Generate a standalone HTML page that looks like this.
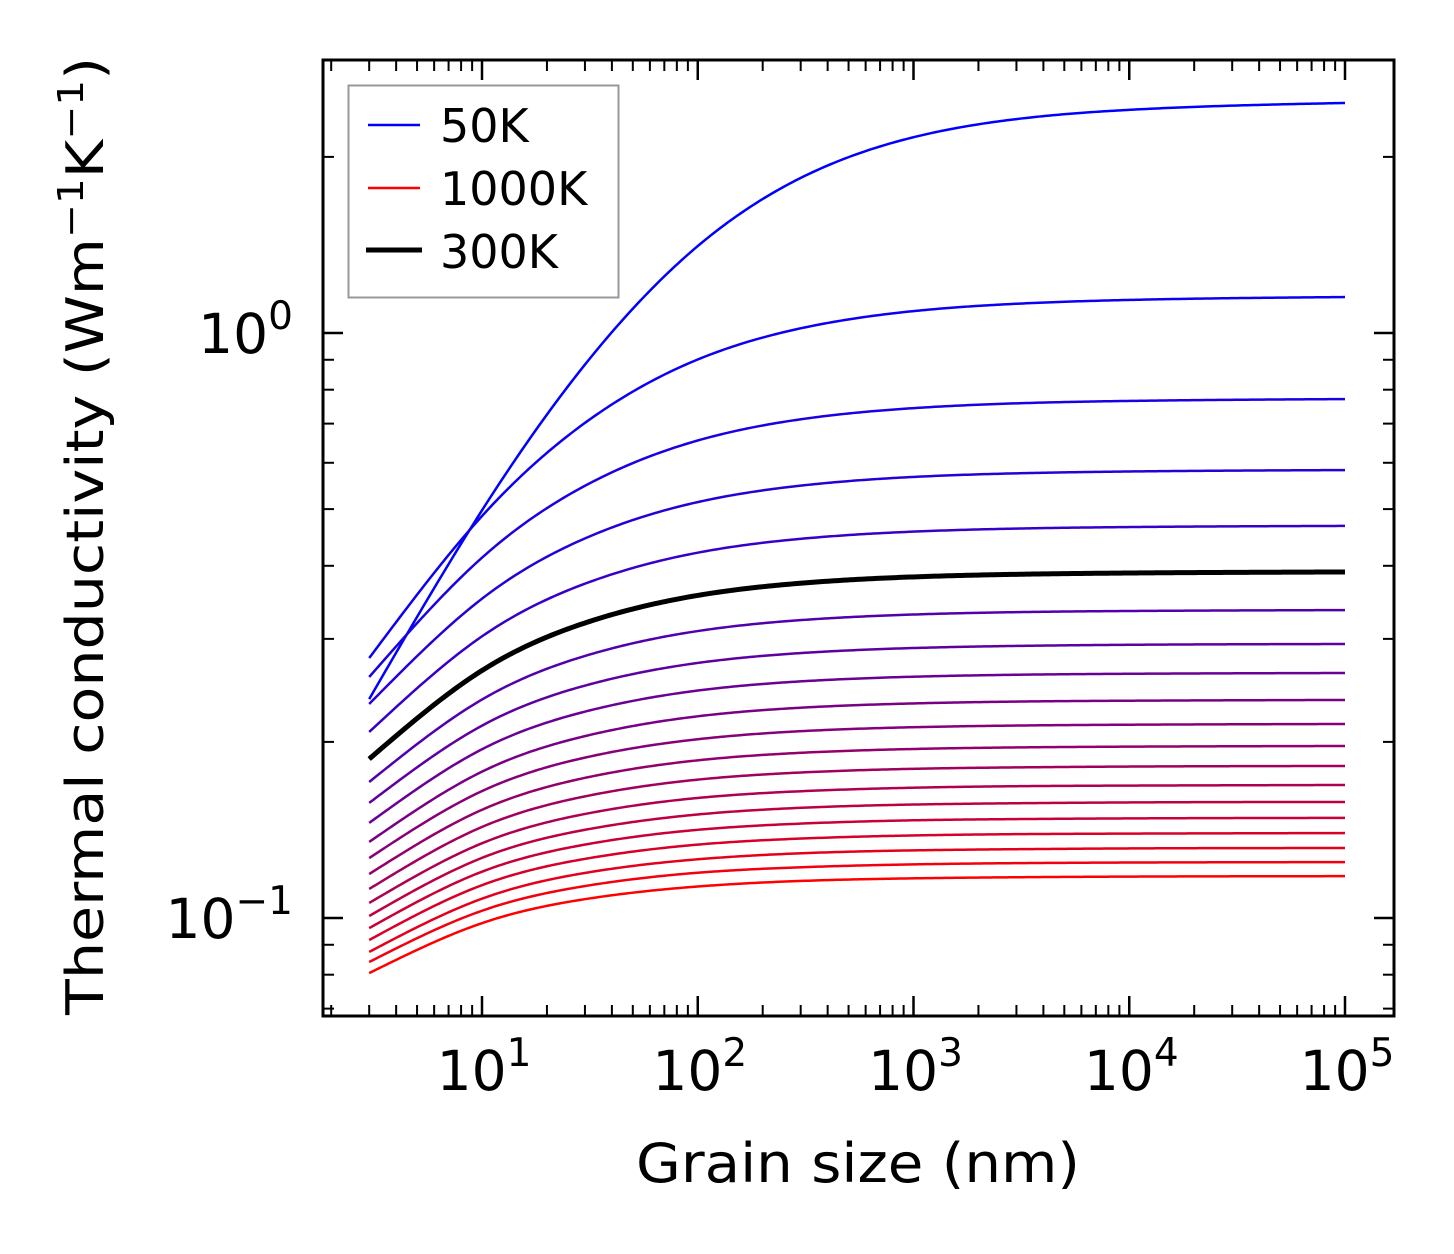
<!DOCTYPE html>
<html><head><meta charset="utf-8"><style>
html,body{margin:0;padding:0;background:#fff}
svg{display:block;font-family:"DejaVu Sans","Liberation Sans",sans-serif}
</style></head><body>
<svg id="chart" width="1454" height="1254" viewBox="0 0 1454 1254" xmlns="http://www.w3.org/2000/svg">
<rect width="1454" height="1254" fill="#fff"/>
<g id="curves"></g>
<g id="ticks"></g>
<rect x="323" y="60" width="1071" height="956" fill="none" stroke="#000" stroke-width="3"/>
<g id="xlabels" font-size="55" text-anchor="middle"></g>
<g id="ylabels" font-size="55" text-anchor="end"></g>
<text x="858" y="1182" font-size="54" text-anchor="middle" textLength="444" lengthAdjust="spacingAndGlyphs">Grain size (nm)</text>
<text transform="translate(103,1015) rotate(-90)" font-size="52" textLength="958" lengthAdjust="spacingAndGlyphs">Thermal conductivity (Wm<tspan dy="-20" font-size="36">−1</tspan><tspan dy="20">K</tspan><tspan dy="-20" font-size="36">−1</tspan><tspan dy="20">)</tspan></text>
<g>
<rect x="348.5" y="85.5" width="270" height="212" fill="#fff" stroke="#999" stroke-width="2"/>
<line x1="368" y1="125" x2="420" y2="125" stroke="#0000ff" stroke-width="2.5"/>
<text x="440" y="142" font-size="46">50K</text>
<line x1="368" y1="188" x2="420" y2="188" stroke="#ff0000" stroke-width="2.5"/>
<text x="440" y="205" font-size="46">1000K</text>
<line x1="366" y1="250" x2="422" y2="250" stroke="#000" stroke-width="5"/>
<text x="440" y="268" font-size="46">300K</text>
</g>
</svg>
<script>
const sizes = [3, 10, 30, 100, 300, 1000, 3000, 10000, 100000];
const temps = [50,100,150,200,250,300,350,400,450,500,550,600,650,700,750,800,850,900,950,1000];
const k50 = [0.2367, 0.4976, 0.883, 1.408, 1.841, 2.161, 2.321, 2.407, 2.473];
const k100 = [0.2782, 0.4865, 0.702, 0.901, 1.0186, 1.090, 1.122, 1.139, 1.152];
const k150 = [0.2582, 0.413, 0.548, 0.655, 0.712, 0.744, 0.7582, 0.7654, 0.771];
const k200 = [0.2322, 0.3514, 0.4455, 0.514, 0.5484, 0.5675, 0.5756, 0.5798, 0.583];
const k250 = [0.208, 0.303, 0.3728, 0.4212, 0.4448, 0.4576, 0.4631, 0.4659, 0.468];
const k300 = [0.187, 0.2649, 0.3194, 0.356, 0.3735, 0.3829, 0.3868, 0.3888, 0.3904];
const k350 = [0.1708, 0.2363, 0.2805, 0.3094, 0.323, 0.3302, 0.3333, 0.3348, 0.336];
const k400 = [0.1573, 0.2132, 0.2496, 0.2729, 0.2837, 0.2894, 0.2918, 0.2931, 0.294];
const k450 = [0.1454, 0.1943, 0.2253, 0.2448, 0.2538, 0.2585, 0.2605, 0.2615, 0.2623];
const k500 = [0.1349, 0.1779, 0.2046, 0.2212, 0.2288, 0.2327, 0.2344, 0.2352, 0.2359];
const k550 = [0.1266, 0.1648, 0.188, 0.2021, 0.2086, 0.2119, 0.2133, 0.214, 0.2146];
const k600 = [0.1189, 0.1531, 0.1736, 0.186, 0.1916, 0.1945, 0.1957, 0.1963, 0.1968];
const k650 = [0.1121, 0.1431, 0.1614, 0.1724, 0.1773, 0.1799, 0.1809, 0.1815, 0.1819];
const k700 = [0.1061, 0.1342, 0.1506, 0.1604, 0.1647, 0.167, 0.168, 0.1684, 0.1688];
const k750 = [0.1008, 0.1267, 0.1415, 0.1503, 0.1543, 0.1563, 0.1571, 0.1576, 0.1579];
const k800 = [0.0961, 0.12, 0.1335, 0.1415, 0.145, 0.1469, 0.1476, 0.148, 0.1483];
const k850 = [0.0917, 0.1138, 0.1262, 0.1335, 0.1367, 0.1384, 0.1391, 0.1394, 0.1397];
const k900 = [0.0875, 0.1079, 0.1194, 0.126, 0.129, 0.1305, 0.1311, 0.1315, 0.1317];
const k950 = [0.0841, 0.1029, 0.1134, 0.1195, 0.1221, 0.1235, 0.1241, 0.1244, 0.1246];
const k1000 = [0.0805, 0.098, 0.1077, 0.1132, 0.1157, 0.1169, 0.1174, 0.1177, 0.1179];
const series = [k50,k100,k150,k200,k250,k300,k350,k400,k450,k500,k550,k600,k650,k700,k750,k800,k850,k900,k950,k1000];
const highlightTemp = 300;
const xTickExps = [1,2,3,4,5];
const yTickExps = [0,-1];

const NS = "http://www.w3.org/2000/svg";
const PX0 = 323, PX1 = 1394, PY0 = 60, PY1 = 1016;
const xMinL = 1 - 159/215.75, xMaxL = 5 + 49/215.75;
const yMaxL = 273/585, yMinL = -683/585;
function xs(v){ return PX0 + (Math.log10(v) - xMinL)/(xMaxL - xMinL)*(PX1-PX0); }
function ys(v){ return PY0 + (yMaxL - Math.log10(v))/(yMaxL - yMinL)*(PY1-PY0); }

function spline(xa, ya){
  const n = xa.length, h = [], al = [], l = [1], mu = [0], z = [0], c = new Array(n).fill(0), b = [], d = [];
  for (let i=0;i<n-1;i++) h.push(xa[i+1]-xa[i]);
  for (let i=1;i<n-1;i++) al[i] = 3/h[i]*(ya[i+1]-ya[i]) - 3/h[i-1]*(ya[i]-ya[i-1]);
  for (let i=1;i<n-1;i++){
    l[i] = 2*(xa[i+1]-xa[i-1]) - h[i-1]*mu[i-1];
    mu[i] = h[i]/l[i];
    z[i] = (al[i] - h[i-1]*z[i-1])/l[i];
  }
  z[n-1]=0; c[n-1]=0;
  for (let j=n-2;j>=0;j--){
    c[j] = z[j] - mu[j]*c[j+1];
    b[j] = (ya[j+1]-ya[j])/h[j] - h[j]*(c[j+1]+2*c[j])/3;
    d[j] = (c[j+1]-c[j])/(3*h[j]);
  }
  return function(x){
    let i=0; while(i<n-2 && x>xa[i+1]) i++;
    const t = x - xa[i];
    return ya[i] + b[i]*t + c[i]*t*t + d[i]*t*t*t;
  };
}
function pathFor(vals){
  const lx = sizes.map(Math.log10), ly = vals.map(Math.log10);
  const f = spline(lx, ly);
  let d = "";
  const N = 300;
  for (let j=0;j<=N;j++){
    const x = lx[0] + (lx[lx.length-1]-lx[0])*j/N;
    const v = Math.pow(10, f(x));
    d += (j?"L":"M") + xs(Math.pow(10,x)).toFixed(2) + "," + ys(v).toFixed(2);
  }
  return d;
}
const cg = document.getElementById("curves");
series.forEach((vals, i) => {
  const t = i/(series.length-1);
  const p = document.createElementNS(NS,"path");
  p.setAttribute("d", pathFor(vals));
  p.setAttribute("fill","none");
  p.setAttribute("stroke", `rgb(${Math.round(255*t)},0,${Math.round(255*(1-t))})`);
  p.setAttribute("stroke-width","2.5");
  
  
  cg.appendChild(p);
});
const hi = temps.indexOf(highlightTemp);
if (hi >= 0){
  const p = document.createElementNS(NS,"path");
  p.setAttribute("d", pathFor(series[hi]));
  p.setAttribute("fill","none");
  p.setAttribute("stroke","#000");
  p.setAttribute("stroke-width","5");
  
  
  cg.appendChild(p);
}
const tg = document.getElementById("ticks");
function line(x1,y1,x2,y2,w,name){
  const l=document.createElementNS(NS,"line");
  l.setAttribute("x1",x1);l.setAttribute("y1",y1);l.setAttribute("x2",x2);l.setAttribute("y2",y2);
  l.setAttribute("stroke","#000");l.setAttribute("stroke-width",w);
  
  
  tg.appendChild(l);
}
for (let e=0;e<=5;e++){
  for (let k=1;k<=9;k++){
    const v = k*Math.pow(10,e); const lv=Math.log10(v);
    if (lv<xMinL||lv>xMaxL) continue;
    const x = xs(v), major = k===1, L = major?20:11, w = major?2.5:2;
    line(x,PY1,x,PY1-L,w,major?"x-major-tick":"x-minor-tick");
    line(x,PY0,x,PY0+L,w,major?"x-major-tick":"x-minor-tick");
  }
}
for (let e=-2;e<=0;e++){
  for (let k=1;k<=9;k++){
    const v = k*Math.pow(10,e); const lv=Math.log10(v);
    if (lv<yMinL||lv>yMaxL) continue;
    const y = ys(v), major = k===1, L = major?20:11, w = major?2.5:2;
    line(PX0,y,PX0+L,y,w,major?"y-major-tick":"y-minor-tick");
    line(PX1,y,PX1-L,y,w,major?"y-major-tick":"y-minor-tick");
  }
}
const xl = document.getElementById("xlabels");
xTickExps.forEach(e => {
  const t = document.createElementNS(NS,"text");
  t.setAttribute("x", xs(Math.pow(10,e)) + 2);
  t.setAttribute("y", 1090);
  t.innerHTML = '10<tspan dy="-24" font-size="39">' + e + '</tspan>';
  
  
  xl.appendChild(t);
});
const yl = document.getElementById("ylabels");
yTickExps.forEach(e => {
  const t = document.createElementNS(NS,"text");
  t.setAttribute("x", 293);
  t.setAttribute("y", ys(Math.pow(10,e)) + 20);
  t.innerHTML = '10<tspan dy="-24" font-size="39">' + (e<0?'−'+(-e):e) + '</tspan>';
  
  
  yl.appendChild(t);
});
</script>
</body></html>
